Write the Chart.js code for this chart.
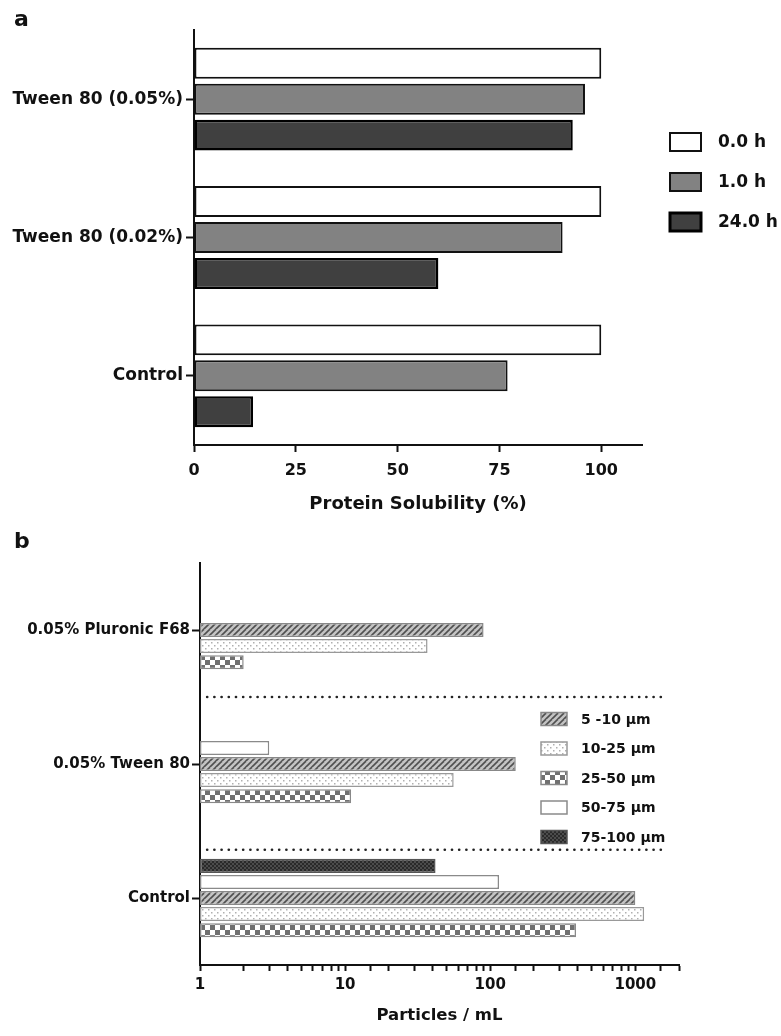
<!DOCTYPE html>
<html>
<head>
<meta charset="utf-8">
<script src="https://cdn.jsdelivr.net/npm/chart.js@4"></script>
<style>
  body { margin: 0; background: #fff; width: 781px; height: 1036px; position: relative; overflow: hidden; }
  .panel { position: absolute; left: 0; }
  .tag { position: absolute; left: 14px; font: bold 22px "DejaVu Sans", sans-serif; color: #111; }
</style>
</head>
<body>
<div class="panel" style="top:0"><canvas id="chartA" width="781" height="515"></canvas></div>
<div class="panel" style="top:515px"><canvas id="chartB" width="781" height="521"></canvas></div>
<div class="tag" style="top:6px">a</div>
<div class="tag" style="top:528px">b</div>
<script>
// panel a: protein solubility
const groupsA = ["Tween 80 (0.05%)", "Tween 80 (0.02%)", "Control"];
const timesA = ["0.0 h", "1.0 h", "24.0 h"];
const sol0h = [100, 100, 100];
const sol1h = [96, 90.5, 77];
const sol24h = [93, 60, 14.5];
const xTicksA = [0, 25, 50, 75, 100];

// panel b: sub-visible particles
const groupsB = ["0.05% Pluronic F68", "0.05% Tween 80", "Control"];
const sizesB = ["5 -10 \u03bcm", "10-25 \u03bcm", "25-50 \u03bcm", "50-75 \u03bcm", "75-100 \u03bcm"];
const p5to10 = [90, 150, 1000];
const p10to25 = [37, 56, 1150];
const p25to50 = [2, 11, 390];
const p50to75 = [null, 3, 115];
const p75to100 = [null, null, 42];
const xTicksB = [1, 10, 100, 1000];
const separatorsB = [0.5, 1.64];

Chart.defaults.font.family = "'DejaVu Sans', sans-serif";
Chart.defaults.font.weight = "bold";
Chart.defaults.color = "#111";

function tile(w, h, paint) {
  const c = document.createElement("canvas");
  c.width = w; c.height = h;
  const g = c.getContext("2d");
  paint(g);
  return g.createPattern(c, "repeat");
}

const hatchFill = tile(6, 6, g => {
  g.fillStyle = "#c4c4c4"; g.fillRect(0, 0, 6, 6);
  g.strokeStyle = "#505050"; g.lineWidth = 1.6;
  [[-6, 6, 0, 0], [0, 6, 6, 0], [0, 12, 12, 0]].forEach(([x1, y1, x2, y2]) => {
    g.beginPath(); g.moveTo(x1, y1); g.lineTo(x2, y2); g.stroke();
  });
});
const dotFill = tile(6, 6, g => {
  g.fillStyle = "#fff"; g.fillRect(0, 0, 6, 6);
  g.fillStyle = "#b0b0b0";
  g.fillRect(1, 1, 1.5, 1.5);
  g.fillRect(4, 4, 1.5, 1.5);
});
const checkFill = tile(10, 10, g => {
  g.fillStyle = "#fff"; g.fillRect(0, 0, 10, 10);
  g.fillStyle = "#707070";
  g.fillRect(0, 0, 5, 5); g.fillRect(5, 5, 5, 5);
});
const darkFill = tile(4, 4, g => {
  g.fillStyle = "#2a2a2a"; g.fillRect(0, 0, 4, 4);
  g.fillStyle = "#4c4c4c";
  g.fillRect(0, 0, 2, 2); g.fillRect(2, 2, 2, 2);
});

const boxLegend = {
  id: "boxLegend",
  afterDraw(chart, args, opts) {
    const ctx = chart.ctx;
    ctx.save();
    ctx.font = opts.font;
    ctx.textBaseline = "middle";
    opts.order.forEach((label, i) => {
      const ds = chart.data.datasets.find(d => d.label === label);
      const y = opts.y + i * opts.gap;
      ctx.fillStyle = ds.backgroundColor;
      ctx.fillRect(opts.x, y - opts.h / 2, opts.w, opts.h);
      ctx.lineWidth = opts.lineWidth[i];
      ctx.strokeStyle = ds.borderColor;
      ctx.strokeRect(opts.x, y - opts.h / 2, opts.w, opts.h);
      ctx.fillStyle = "#111";
      ctx.fillText(label, opts.x + opts.w + opts.textGap, y + 1);
    });
    ctx.restore();
  }
};

const separators = {
  id: "separators",
  afterDatasetsDraw(chart, args, opts) {
    const ctx = chart.ctx, x = chart.scales.x, y = chart.scales.y;
    ctx.save();
    ctx.strokeStyle = "#222";
    ctx.lineWidth = 2.6;
    ctx.lineCap = "round";
    ctx.setLineDash([0.1, 7.1]);
    opts.at.forEach(v => {
      const py = y.getPixelForValue(v);
      ctx.beginPath();
      ctx.moveTo(x.getPixelForValue(opts.from), py);
      ctx.lineTo(x.getPixelForValue(opts.to), py);
      ctx.stroke();
    });
    ctx.restore();
  }
};

// ---- chart a ----
new Chart(document.getElementById("chartA"), {
  type: "bar",
  data: {
    labels: groupsA,
    datasets: [
      { label: timesA[0], data: sol0h, backgroundColor: "#ffffff", borderColor: "#111", borderWidth: 2 },
      { label: timesA[1], data: sol1h, backgroundColor: "#828282", borderColor: "#111", borderWidth: 2 },
      { label: timesA[2], data: sol24h, backgroundColor: "#404040", borderColor: "#000", borderWidth: 2.5 }
    ]
  },
  options: {
    indexAxis: "y",
    responsive: false,
    animation: false,
    datasets: { bar: { categoryPercentage: 0.78, barPercentage: 0.86, borderSkipped: false } },
    layout: { padding: { top: 30, right: 139, left: 0, bottom: 0 } },
    plugins: {
      legend: { display: false },
      tooltip: { enabled: false },
      boxLegend: { order: timesA, x: 670, y: 142, gap: 40, w: 31, h: 18, textGap: 17,
                   font: "bold 17px 'DejaVu Sans'", lineWidth: [2, 2, 3] }
    },
    scales: {
      x: {
        min: 0, max: 110,
        afterFit: s => { s.height = 70; },
        afterBuildTicks: s => { s.ticks = xTicksA.map(v => ({ value: v })); },
        ticks: { font: { size: 16 }, padding: 9, color: "#111" },
        grid: { drawOnChartArea: false, tickLength: 7, tickWidth: 2, tickColor: "#111" },
        border: { color: "#111", width: 2 },
        title: { display: true, text: "Protein Solubility (%)", font: { size: 18 }, padding: { top: 0, bottom: 0 }, color: "#111" }
      },
      y: {
        afterFit: s => { s.width = 194; },
        ticks: { font: { size: 17 }, padding: 3, color: "#111" },
        grid: { drawOnChartArea: false, offset: false, tickLength: 8, tickWidth: 2, tickColor: "#111" },
        border: { color: "#111", width: 2 }
      }
    }
  },
  plugins: [boxLegend]
});

// ---- chart b ----
new Chart(document.getElementById("chartB"), {
  type: "bar",
  data: {
    labels: groupsB,
    datasets: [
      { label: sizesB[4], data: p75to100, backgroundColor: darkFill, borderColor: "#555", borderWidth: 1.5 },
      { label: sizesB[3], data: p50to75, backgroundColor: "#ffffff", borderColor: "#8a8a8a", borderWidth: 1.5 },
      { label: sizesB[0], data: p5to10, backgroundColor: hatchFill, borderColor: "#888", borderWidth: 1.5 },
      { label: sizesB[1], data: p10to25, backgroundColor: dotFill, borderColor: "#999", borderWidth: 1.5 },
      { label: sizesB[2], data: p25to50, backgroundColor: checkFill, borderColor: "#888", borderWidth: 1.5 }
    ]
  },
  options: {
    indexAxis: "y",
    responsive: false,
    animation: false,
    datasets: { bar: { categoryPercentage: 0.6, barPercentage: 0.875, borderSkipped: false } },
    layout: { padding: { top: 48, right: 102, left: 0, bottom: 0 } },
    plugins: {
      legend: { display: false },
      tooltip: { enabled: false },
      boxLegend: { order: sizesB, x: 541, y: 204, gap: 29.5, w: 26, h: 13, textGap: 14,
                   font: "bold 14px 'DejaVu Sans'", lineWidth: [1.5, 1.5, 1.5, 1.5, 1.5] },
      separators: { at: separatorsB, from: 1.12, to: 1500 }
    },
    scales: {
      x: {
        type: "logarithmic",
        min: 1, max: 2000,
        afterFit: s => { s.height = 71; },
        ticks: {
          font: { size: 15 }, padding: 5, color: "#111", autoSkip: false, maxRotation: 0,
          callback: v => xTicksB.includes(v) ? String(v) : ""
        },
        grid: { drawOnChartArea: false, tickLength: 6, tickWidth: 2, tickColor: "#111" },
        border: { color: "#111", width: 2 },
        title: { display: true, text: "Particles / mL", font: { size: 16.5 }, padding: { top: 0, bottom: 10 }, color: "#111" }
      },
      y: {
        afterFit: s => { s.width = 200; },
        ticks: { font: { size: 15 }, padding: 2, color: "#111" },
        grid: { drawOnChartArea: false, offset: false, tickLength: 8, tickWidth: 2, tickColor: "#111" },
        border: { color: "#111", width: 2 }
      }
    }
  },
  plugins: [boxLegend, separators]
});
</script>
</body>
</html>
